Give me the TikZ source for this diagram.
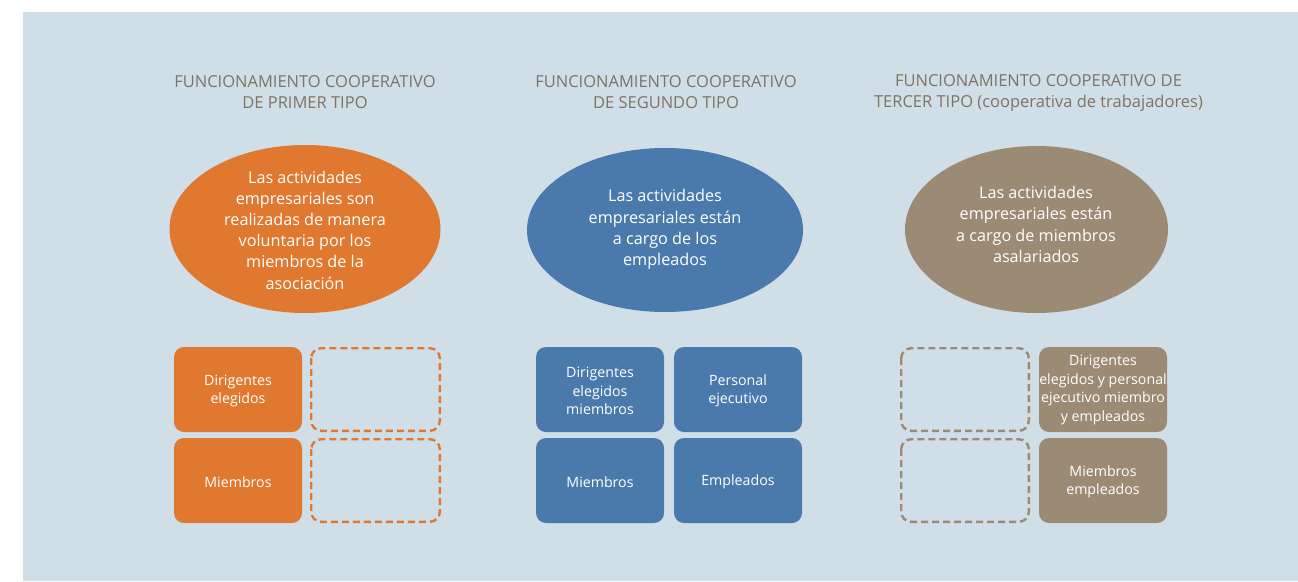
\documentclass[tikz,border=0pt]{standalone}
\usepackage{fontspec}
\setmainfont{Open Sans}
\usetikzlibrary{shapes.geometric}
\definecolor{bgblue}{HTML}{D0DEE8}
\definecolor{corange}{HTML}{E07830}
\definecolor{cblue}{HTML}{4A7AAC}
\definecolor{ctaupe}{HTML}{9B8B74}
\definecolor{ctitle}{HTML}{7F7462}
\tikzset{
  title/.style={text=ctitle, align=center, font=\fontsize{16.5}{21}\selectfont, inner sep=0},
  ell/.style={ellipse, inner sep=0, draw=none},
  elltext/.style={text=white, align=center, font=\fontsize{16.2}{21.2}\selectfont, inner sep=0},
  solidbox/.style={rounded corners=10pt},
  dashbox/.style={rounded corners=10pt, line width=2.4pt, dash pattern=on 7pt off 4pt},
  boxtext/.style={text=white, align=center, font=\fontsize{14.2}{18.6}\selectfont, inner sep=0},
}
\begin{document}
\begin{tikzpicture}[x=1pt,y=-1pt]
\useasboundingbox (0,0) rectangle (1298,581);
\fill[bgblue] (23,12) rectangle (1298,581);

% titles
\node[title] (t1) at (305,92.5) {FUNCIONAMIENTO COOPERATIVO\\DE PRIMER TIPO};
\node[title] (t2) at (666,92.5) {FUNCIONAMIENTO COOPERATIVO\\DE SEGUNDO TIPO};
\node[title] (t3) at (1038.5,92.5) {FUNCIONAMIENTO COOPERATIVO DE\\TERCER TIPO (cooperativa de trabajadores)};

% ellipses
\node[ell, fill=corange, minimum width=271pt, minimum height=168pt] (e1) at (305,229) {};
\node[ell, fill=cblue, minimum width=276pt, minimum height=164pt] (e2) at (665,230) {};
\node[ell, fill=ctaupe, minimum width=263pt, minimum height=167pt] (e3) at (1036.5,229.5) {};

\node[elltext] (e1t) at (305,230) {Las actividades\\empresariales son\\realizadas de manera\\voluntaria por los\\miembros de la\\asociación};
\node[elltext] (e2t) at (665,229.5) {Las actividades\\empresariales están\\a cargo de los\\empleados};
\node[elltext] (e3t) at (1036,224.5) {Las actividades\\empresariales están\\a cargo de miembros\\asalariados};

% column 1
\fill[corange, solidbox] (174,347) rectangle (302,432);
\node[boxtext] (b11) at (238,391) {Dirigentes\\elegidos};
\fill[corange, solidbox] (174,438) rectangle (302,523);
\node[boxtext] (b21) at (238,482) {Miembros};
\draw[corange, dashbox] (311.2,348.2) rectangle (439.8,430.8);
\draw[corange, dashbox] (311.2,439.2) rectangle (439.8,521.8);

% column 2
\fill[cblue, solidbox] (536,347) rectangle (664,432);
\node[boxtext] (b12) at (600,391) {Dirigentes\\elegidos\\miembros};
\fill[cblue, solidbox] (674,347) rectangle (802,432);
\node[boxtext] (b13) at (738,391) {Personal\\ejecutivo};
\fill[cblue, solidbox] (536,438) rectangle (664,523);
\node[boxtext] (b22) at (600,482) {Miembros};
\fill[cblue, solidbox] (674,438) rectangle (802,523);
\node[boxtext] (b23) at (738,482) {Empleados};

% column 3
\draw[ctaupe, dashbox] (901.2,348.2) rectangle (1028.8,430.8);
\draw[ctaupe, dashbox] (901.2,439.2) rectangle (1028.8,521.8);
\fill[ctaupe, solidbox] (1039,347) rectangle (1167,432);
\node[boxtext] (b14) at (1103,390) {Dirigentes\\elegidos y personal\\ejecutivo miembro\\y empleados};
\fill[ctaupe, solidbox] (1039,438) rectangle (1167,523);
\node[boxtext] (b24) at (1103,482) {Miembros\\empleados};
\end{tikzpicture}
\end{document}
